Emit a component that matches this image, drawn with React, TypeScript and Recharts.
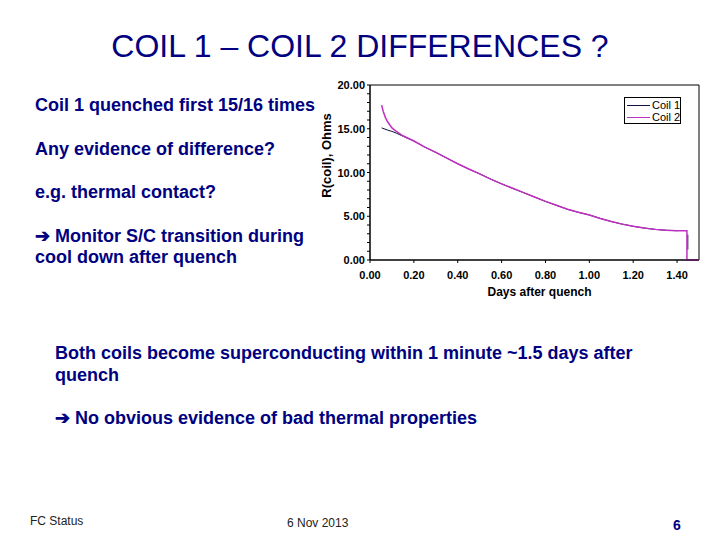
import React from 'react';
import { LineChart, Line, XAxis, YAxis, ReferenceArea, Legend } from 'recharts';

// ---- data ----
const coil1Days = [0.053, 0.08, 0.1, 0.12, 0.15, 0.2, 0.25, 0.3, 0.35, 0.4, 0.45, 0.5, 0.55, 0.6, 0.65, 0.7, 0.75, 0.8, 0.85, 0.9, 0.95, 1.0, 1.05, 1.1, 1.15, 1.2, 1.25, 1.3, 1.35, 1.4, 1.42, 1.449, 1.449];
const coil1R = [15.1, 14.85, 14.7, 14.5, 14.15, 13.6, 12.9, 12.3, 11.65, 11.0, 10.4, 9.85, 9.25, 8.7, 8.2, 7.7, 7.2, 6.7, 6.25, 5.8, 5.45, 5.15, 4.75, 4.4, 4.1, 3.85, 3.65, 3.5, 3.4, 3.35, null, 2.9, 1.2];

const coil2Days = [0.053, 0.06, 0.07, 0.08, 0.1, 0.12, 0.15, 0.2, 0.25, 0.3, 0.35, 0.4, 0.45, 0.5, 0.55, 0.6, 0.65, 0.7, 0.75, 0.8, 0.85, 0.9, 0.95, 1.0, 1.05, 1.1, 1.15, 1.2, 1.25, 1.3, 1.35, 1.4, 1.445, 1.445, 1.5];
const coil2R = [17.7, 17.0, 16.3, 15.8, 15.1, 14.7, 14.2, 13.6, 12.9, 12.3, 11.65, 11.0, 10.4, 9.85, 9.25, 8.7, 8.2, 7.7, 7.2, 6.7, 6.25, 5.8, 5.45, 5.15, 4.75, 4.4, 4.1, 3.85, 3.65, 3.5, 3.4, 3.35, 3.35, 0, 0];

const xTicks = [0, 0.2, 0.4, 0.6, 0.8, 1.0, 1.2, 1.4];
const yTicks = [0, 1, 2, 3, 4, 5, 6, 7, 8, 9, 10, 11, 12, 13, 14, 15, 16, 17, 18, 19, 20];
const seriesNames = ['Coil 1', 'Coil 2'];
const seriesColors = ['#101040', '#c030c0'];

const coil1Data = coil1Days.map((d, i) => ({ d, r: coil1R[i] }));
const coil2Data = coil2Days.map((d, i) => ({ d, r: coil2R[i] }));

const FONT = '"Liberation Sans", Arial, sans-serif';
const NAVY = '#000080';

const YTick = (props: any) => {
  const { x, y, payload } = props;
  const v = payload.value;
  if (v % 5 !== 0) return null;
  return (
    <text x={x} y={y} dy={4} textAnchor="end" fontFamily={FONT} fontSize={11} fontWeight="bold" fill="#000">
      {v.toFixed(2)}
    </text>
  );
};

const YLabel = (props: any) => {
  const vb = props.viewBox;
  const x = vb.x + 21;
  const y = vb.y + vb.height / 2 - 17;
  return (
    <text x={x} y={y} transform={`rotate(-90, ${x}, ${y})`} textAnchor="middle" fontFamily={FONT} fontSize={13} fontWeight="bold" fill="#000">
      R(coil), Ohms
    </text>
  );
};

const XLabel = (props: any) => {
  const vb = props.viewBox;
  return (
    <text x={vb.x + vb.width / 2 + 5} y={vb.y + 36} textAnchor="middle" fontFamily={FONT} fontSize={12} fontWeight="bold" fill="#000">
      Days after quench
    </text>
  );
};

const LegendBox = () => (
  <div style={{ border: '1px solid #000', background: '#fff', width: 55, height: 25, position: 'relative', fontFamily: FONT, fontSize: 11, boxSizing: 'content-box' }}>
    {seriesNames.map((n, i) => (
      <div key={n} style={{ position: 'absolute', left: 2, top: 1 + i * 12, height: 12, display: 'flex', alignItems: 'center', whiteSpace: 'nowrap' }}>
        <div style={{ width: 23, height: 0, borderTop: `1px solid ${seriesColors[i]}`, flex: 'none' }} />
        <span style={{ marginLeft: 2, lineHeight: '12px', color: '#000', whiteSpace: 'nowrap' }}>{n}</span>
      </div>
    ))}
  </div>
);

const T = (p: { x: number; y: number; s: number; b?: boolean; c?: string; a?: 'start' | 'middle' | 'end'; t: string }) => (
  <text x={p.x} y={p.y} fontFamily={FONT} fontSize={p.s} fontWeight={p.b ? 'bold' : 'normal'} fill={p.c || NAVY} textAnchor={p.a || 'start'}>
    {p.t}
  </text>
);

export default function App() {
  return (
    <div style={{ position: 'fixed', left: 0, top: 0, width: 720, height: 540, background: '#fff', overflow: 'hidden' }}>
      <svg width={720} height={540} style={{ position: 'absolute', left: 0, top: 0 }}>
        <T x={360} y={57} s={32} a="middle" t="COIL 1 – COIL 2 DIFFERENCES ?" />
        <T x={35} y={111} s={18} b t="Coil 1 quenched first 15/16 times" />
        <T x={35} y={155} s={18} b t="Any evidence of difference?" />
        <T x={35} y={198} s={18} b t="e.g. thermal contact?" />
        <T x={35} y={242} s={18} b t="➔ Monitor S/C transition during" />
        <T x={35} y={263} s={18} b t="cool down after quench" />
        <T x={55} y={359} s={18} b t="Both coils become superconducting within 1 minute ~1.5 days after" />
        <T x={55} y={381} s={18} b t="quench" />
        <T x={55} y={424} s={18} b t="➔ No obvious evidence of bad thermal properties" />
        <T x={30} y={525} s={12} c="#222" t="FC Status" />
        <T x={287} y={527} s={12} c="#222" t="6 Nov 2013" />
        <T x={673} y={530} s={14} b c={NAVY} t="6" />
      </svg>
      <div style={{ position: 'absolute', left: 300, top: 70 }}>
        <LineChart width={410} height={240} margin={{ top: 15, right: 11, left: 10, bottom: 10 }}>
          <XAxis
            type="number"
            dataKey="d"
            domain={[0, 1.5]}
            ticks={xTicks}
            tickFormatter={(v: number) => v.toFixed(2)}
            tickSize={3}
            tickMargin={8}
            height={40}
            stroke="#000"
            tick={{ fontFamily: FONT, fontSize: 11, fontWeight: 'bold', fill: '#000' }}
            label={<XLabel />}
          />
          <YAxis
            type="number"
            domain={[0, 20]}
            ticks={yTicks}
            tick={<YTick />}
            tickSize={3}
            tickMargin={2}
            width={60}
            stroke="#000"
            interval={0}
            label={<YLabel />}
          />
          <ReferenceArea x1={0} x2={1.5} y1={0} y2={20} fill="none" stroke="#000" strokeWidth={1} />
          <Line data={coil1Data} dataKey="r" name={seriesNames[0]} stroke={seriesColors[0]} strokeWidth={1} dot={false} isAnimationActive={false} connectNulls={false} />
          <Line data={coil2Data} dataKey="r" name={seriesNames[1]} stroke={seriesColors[1]} strokeWidth={1.5} dot={false} isAnimationActive={false} />
          <Legend
            layout="vertical"
            align="center"
            verticalAlign="middle"
            content={<LegendBox />}
            wrapperStyle={{ position: 'absolute', left: 324, top: 27, width: 57, height: 27 }}
          />
        </LineChart>
      </div>
    </div>
  );
}
